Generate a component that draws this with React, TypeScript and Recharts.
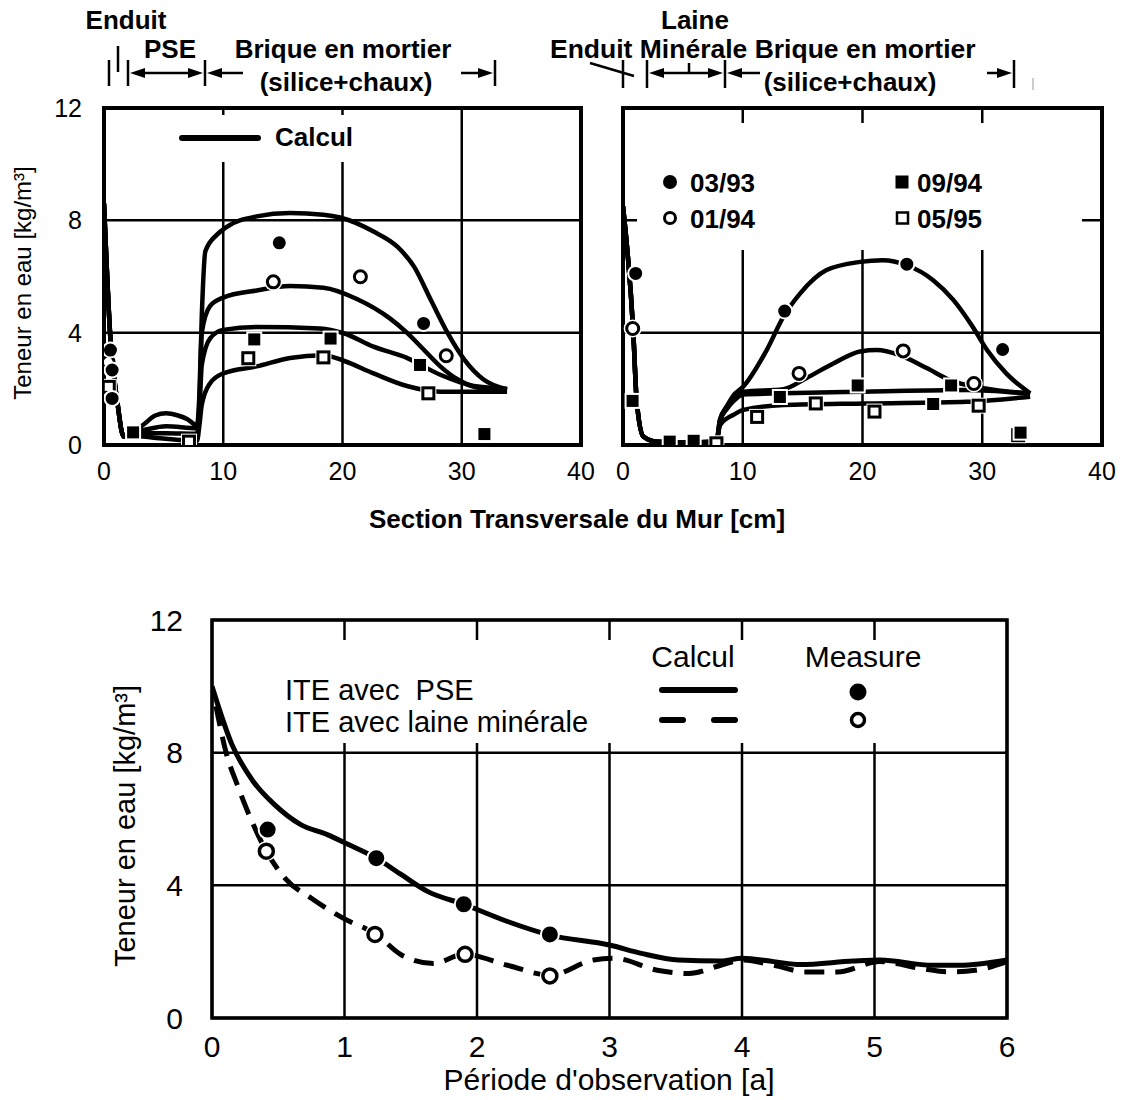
import {
  ComposedChart,
  Line,
  Scatter,
  XAxis,
  YAxis,
  CartesianGrid,
  ReferenceArea,
  Legend,
} from "recharts";

type Pt = [number, number];

const SANS = "Arial, 'Liberation Sans', Helvetica, sans-serif";

// ---- top panels: x = section of the wall [cm], y = water content [kg/m³]
const WALL_X_TICKS = [0, 10, 20, 30, 40];
const WATER_TICKS = [0, 4, 8, 12];

// PSE wall, calculated profiles
const PSE_START: Pt[] = [[0, 8.6], [0.55, 3.7], [1.1, 1.6], [1.65, 0.3]];
const PSE_CALC_0393: Pt[] = [[2.4, 0.45], [3.3, 0.72], [4.3, 1.05], [5.2, 1.13], [6.2, 1.05], [7.0, 0.92], [7.8, 0.7], [8.0, 1.8], [8.2, 4.6], [8.5, 6.9], [9.5, 7.5], [10.3, 7.77], [12.8, 8.14], [15.6, 8.26], [18.4, 8.2], [19.8, 8.1], [22.6, 7.6], [24.6, 7.06], [26, 6.35], [27.4, 5.17], [28.8, 4.0], [30.2, 3.05], [31.8, 2.34], [33.8, 1.98]];
const PSE_CALC_0194: Pt[] = [[2.4, 0.45], [3.3, 0.53], [5.2, 0.67], [7.8, 0.6], [8.0, 1.5], [8.2, 4.0], [8.9, 4.95], [10, 5.25], [12.8, 5.5], [15.6, 5.66], [18.4, 5.6], [21.2, 5.2], [24, 4.5], [25.4, 4.0], [26.8, 3.4], [28.2, 2.8], [29.6, 2.35], [31.3, 2.05], [33.8, 1.95]];
const PSE_CALC_0994: Pt[] = [[2.4, 0.4], [3.3, 0.42], [5.2, 0.42], [7.8, 0.4], [8.0, 1.2], [8.2, 2.85], [8.9, 3.8], [10, 4.1], [12.8, 4.2], [18.1, 4.15], [20.1, 3.98], [22.6, 3.5], [25.4, 3.1], [28.2, 2.5], [31, 2.1], [33.8, 2.0]];
const PSE_CALC_0595: Pt[] = [[2.4, 0.35], [3.3, 0.3], [5.2, 0.22], [7.8, 0.15], [8.0, 0.7], [8.2, 1.43], [8.9, 2.2], [10, 2.55], [12.8, 2.8], [15.6, 3.1], [18.4, 3.2], [20.1, 3.0], [22.6, 2.55], [25.4, 2.1], [28.2, 1.9], [33.8, 1.9]];

// PSE wall, measurements
const PSE_MEAS_0393: Pt[] = [[0.54, 3.38], [0.68, 2.67], [0.68, 1.66], [14.7, 7.2], [26.8, 4.33]];
const PSE_MEAS_0194: Pt[] = [[0.35, 2.95], [14.2, 5.81], [21.5, 5.99], [28.7, 3.18]];
const PSE_MEAS_0994: Pt[] = [[2.44, 0.45], [12.6, 3.76], [19.0, 3.79], [26.5, 2.85], [31.9, 0.39]];
const PSE_MEAS_0595: Pt[] = [[0.4, 2.07], [7.13, 0.12], [12.1, 3.09], [18.4, 3.12], [27.2, 1.84]];

// mineral wool wall, calculated profiles
const LM_START: Pt[] = [[0, 8.5], [0.86, 4.0], [1.14, 1.6], [1.7, 0.3], [2.8, 0.12], [5, 0.1], [7.8, 0.12]];
const LM_CALC_0393: Pt[] = [[8.1, 0.9], [8.7, 1.4], [9.2, 1.75], [10.05, 2.08], [12, 3.38], [13.4, 4.57], [14.8, 5.4], [17, 6.23], [19.8, 6.52], [21.7, 6.58], [23.7, 6.4], [25.9, 5.87], [27.6, 5.16], [29.2, 4.21], [30.4, 3.38], [32, 2.55], [34, 1.84]];
const LM_CALC_0194: Pt[] = [[8.1, 0.9], [8.7, 1.35], [9.2, 1.65], [10.05, 1.9], [13.4, 1.99], [15.3, 2.38], [17.6, 2.91], [19.8, 3.33], [21.2, 3.38], [23.1, 3.2], [25.4, 2.73], [27.3, 2.31], [30.1, 2.02], [34, 1.84]];
const LM_CALC_0994: Pt[] = [[8.1, 0.85], [8.7, 1.3], [9.2, 1.55], [10.05, 1.8], [13.4, 1.84], [20.3, 1.9], [28.7, 1.96], [34, 1.82]];
const LM_CALC_0595: Pt[] = [[8.1, 0.7], [8.7, 0.95], [9.2, 1.07], [10.05, 1.25], [13.4, 1.42], [20.3, 1.48], [28.7, 1.54], [34, 1.72]];

// mineral wool wall, measurements
const LM_MEAS_0393: Pt[] = [[1.06, 6.11], [13.5, 4.77], [23.7, 6.44], [31.7, 3.4]];
const LM_MEAS_0194: Pt[] = [[0.81, 4.15], [14.7, 2.55], [23.4, 3.35], [29.3, 2.19]];
const LM_MEAS_0994: Pt[] = [[0.8, 1.57], [3.9, 0.12], [5.9, 0.15], [13.1, 1.71], [19.6, 2.12], [25.9, 1.46], [27.4, 2.12], [33.2, 0.44]];
const LM_MEAS_0595: Pt[] = [[7.8, 0.06], [11.2, 1.0], [16.1, 1.48], [21.0, 1.19], [29.7, 1.4], [33.0, 0.35]];

// ---- bottom panel: x = observation period [a]
const YEAR_TICKS = [0, 1, 2, 3, 4, 5, 6];
const TIME_CALC_PSE: Pt[] = [[0, 10.0], [0.15, 8.25], [0.31, 7.14], [0.47, 6.44], [0.67, 5.83], [0.87, 5.53], [1.03, 5.23], [1.24, 4.82], [1.43, 4.32], [1.63, 3.81], [1.9, 3.43], [2.23, 2.91], [2.55, 2.5], [3.0, 2.2], [3.24, 1.95], [3.52, 1.75], [3.84, 1.72], [4.0, 1.8], [4.24, 1.7], [4.44, 1.61], [4.84, 1.72], [5.04, 1.75], [5.44, 1.59], [5.64, 1.59], [6.0, 1.75]];
const TIME_CALC_LM: Pt[] = [[0.03, 9.4], [0.11, 7.95], [0.19, 7.04], [0.29, 6.03], [0.41, 5.03], [0.55, 4.22], [0.75, 3.61], [0.99, 3.01], [1.24, 2.52], [1.43, 1.9], [1.67, 1.64], [1.9, 1.92], [2.23, 1.59], [2.55, 1.29], [2.88, 1.75], [3.04, 1.8], [3.36, 1.44], [3.6, 1.34], [3.84, 1.59], [4.0, 1.75], [4.24, 1.59], [4.48, 1.39], [4.72, 1.39], [5.04, 1.7], [5.36, 1.49], [5.56, 1.39], [5.76, 1.44], [6.0, 1.7]];
const TIME_MEAS_PSE: Pt[] = [[0.42, 5.68], [1.24, 4.82], [1.9, 3.43], [2.55, 2.52]];
const TIME_MEAS_LM: Pt[] = [[0.41, 5.03], [1.23, 2.52], [1.91, 1.92], [2.55, 1.27]];

const xy = (pts: Pt[]) => pts.map(([x, y]) => ({ x, y }));

type Kind = "disc" | "ring" | "block" | "box";

function marker(kind: Kind, big = false) {
  return (p: any) => {
    const { cx, cy } = p;
    if (cx == null || cy == null) return <g />;
    if (kind === "disc") {
      const r = big ? 9 : 7.5;
      return <circle cx={cx} cy={cy} r={r} fill="#000" stroke="#fff" strokeWidth={2} />;
    }
    if (kind === "ring") {
      const r = big ? 7 : 6;
      return (
        <g>
          <circle cx={cx} cy={cy} r={r + 3} fill="#fff" />
          <circle cx={cx} cy={cy} r={r} fill="#fff" stroke="#000" strokeWidth={big ? 3.5 : 3} />
        </g>
      );
    }
    if (kind === "block") {
      return <rect x={cx - 7} y={cy - 7} width={14} height={14} fill="#000" stroke="#fff" strokeWidth={2} />;
    }
    return (
      <g>
        <rect x={cx - 8} y={cy - 8} width={16} height={16} fill="#fff" />
        <rect x={cx - 5.5} y={cy - 5.5} width={11} height={11} fill="#fff" stroke="#000" strokeWidth={3} />
      </g>
    );
  };
}

const tickStyle = (size: number) => ({ fill: "#000", fontSize: size, fontFamily: SANS });

function PseKey() {
  return (
    <div style={{ width: 200, height: 47, background: "#fff" }}>
      <svg width={200} height={47}>
        <line x1={12} y1={23} x2={88} y2={23} stroke="#000" strokeWidth={6} strokeLinecap="round" />
        <text x={105} y={31} fontFamily={SANS} fontWeight="bold" fontSize={26}>Calcul</text>
      </svg>
    </div>
  );
}

function DateKey() {
  const lbl = { fontFamily: SANS, fontWeight: "bold" as const, fontSize: 26 };
  return (
    <div style={{ width: 445, height: 127, background: "#fff" }}>
      <svg width={445} height={127}>
        <circle cx={33} cy={59} r={7} fill="#000" />
        <text x={53} y={69} {...lbl}>03/93</text>
        <circle cx={33} cy={95} r={5.5} fill="#fff" stroke="#000" strokeWidth={3} />
        <text x={53} y={105} {...lbl}>01/94</text>
        <rect x={258.5} y={52.5} width={13} height={13} fill="#000" />
        <text x={280} y={69} {...lbl}>09/94</text>
        <rect x={260} y={89.5} width={11} height={11} fill="#fff" stroke="#000" strokeWidth={2.5} />
        <text x={280} y={105} {...lbl}>05/95</text>
      </svg>
    </div>
  );
}

function TimeKey() {
  const head = { fontFamily: SANS, fontSize: 30 };
  const row = { fontFamily: SANS, fontSize: 29 };
  return (
    <div style={{ width: 720, height: 103, background: "#fff" }}>
      <svg width={720} height={103}>
        <text x={423} y={27} textAnchor="middle" {...head}>Calcul</text>
        <text x={593} y={27} textAnchor="middle" {...head}>Measure</text>
        <text x={15} y={60} style={{ whiteSpace: "pre" }} {...row}>{"ITE avec  PSE"}</text>
        <text x={15} y={92} {...row}>ITE avec laine minérale</text>
        <line x1={392} y1={50} x2={465} y2={50} stroke="#000" strokeWidth={6} strokeLinecap="round" />
        <line x1={392} y1={80} x2={413} y2={80} stroke="#000" strokeWidth={6} strokeLinecap="round" />
        <line x1={444} y1={80} x2={465} y2={80} stroke="#000" strokeWidth={6} strokeLinecap="round" />
        <circle cx={588} cy={52} r={8.5} fill="#000" />
        <circle cx={588} cy={80} r={6.5} fill="#fff" stroke="#000" strokeWidth={3.5} />
      </svg>
    </div>
  );
}

interface WallPanelProps {
  start: Pt[];
  calc: Pt[][];
  meas: [Pt[], Pt[], Pt[], Pt[]];
  width: number;
  marginLeft: number;
  marginRight: number;
  showY: boolean;
  keyBox: { left: number; top: number; width: number; height: number };
  keyContent: () => JSX.Element;
}

function WallPanel({ start, calc, meas, width, marginLeft, marginRight, showY, keyBox, keyContent }: WallPanelProps) {
  return (
    <ComposedChart width={width} height={500} margin={{ top: 108, right: marginRight, bottom: 15, left: marginLeft }}>
      <CartesianGrid stroke="#000" strokeWidth={2.5} />
      <XAxis
        type="number"
        dataKey="x"
        domain={[0, 40]}
        ticks={WALL_X_TICKS}
        interval={0}
        tick={tickStyle(25)}
        tickLine={false}
        axisLine={false}
        tickMargin={11}
        height={40}
        allowDataOverflow
      />
      <YAxis
        type="number"
        dataKey="y"
        domain={[0, 12]}
        ticks={WATER_TICKS}
        interval={0}
        tick={tickStyle(25)}
        tickLine={false}
        axisLine={false}
        tickMargin={16}
        width={104}
        hide={!showY}
        allowDataOverflow
      />
      <ReferenceArea x1={0} x2={40} y1={0} y2={12} fill="none" stroke="#000" strokeWidth={4} ifOverflow="visible" />
      {calc.map((c, i) => (
        <Line
          key={i}
          data={xy([...start, ...c])}
          dataKey="y"
          type="monotone"
          stroke="#000"
          strokeWidth={4.5}
          dot={false}
          activeDot={false}
          isAnimationActive={false}
        />
      ))}
      <Scatter data={xy(meas[1])} dataKey="y" shape={marker("ring")} isAnimationActive={false} />
      <Scatter data={xy(meas[3])} dataKey="y" shape={marker("box")} isAnimationActive={false} />
      <Scatter data={xy(meas[0])} dataKey="y" shape={marker("disc")} isAnimationActive={false} />
      <Scatter data={xy(meas[2])} dataKey="y" shape={marker("block")} isAnimationActive={false} />
      <Legend
        layout="horizontal"
        verticalAlign="middle"
        align="center"
        wrapperStyle={{ position: "absolute", ...keyBox }}
        content={keyContent}
      />
    </ComposedChart>
  );
}

function TimePanel() {
  return (
    <ComposedChart width={1125} height={540} margin={{ top: 60, right: 118, bottom: 2, left: 0 }}>
      <CartesianGrid stroke="#000" strokeWidth={2.5} />
      <XAxis
        type="number"
        dataKey="x"
        domain={[0, 6]}
        ticks={YEAR_TICKS}
        interval={0}
        tick={tickStyle(30)}
        tickLine={false}
        axisLine={false}
        tickMargin={12}
        height={80}
        allowDataOverflow
      />
      <YAxis
        type="number"
        dataKey="y"
        domain={[0, 12]}
        ticks={WATER_TICKS}
        interval={0}
        tick={tickStyle(30)}
        tickLine={false}
        axisLine={false}
        tickMargin={23}
        width={212}
        allowDataOverflow
      />
      <ReferenceArea x1={0} x2={6} y1={0} y2={12} fill="none" stroke="#000" strokeWidth={3.5} ifOverflow="visible" />
      <Line data={xy(TIME_CALC_PSE)} dataKey="y" type="monotone" stroke="#000" strokeWidth={5} dot={false} activeDot={false} isAnimationActive={false} />
      <Line data={xy(TIME_CALC_LM)} dataKey="y" type="monotone" stroke="#000" strokeWidth={5} strokeDasharray="20 11" dot={false} activeDot={false} isAnimationActive={false} />
      <Scatter data={xy(TIME_MEAS_LM)} dataKey="y" shape={marker("ring", true)} isAnimationActive={false} />
      <Scatter data={xy(TIME_MEAS_PSE)} dataKey="y" shape={marker("disc", true)} isAnimationActive={false} />
      <Legend
        layout="horizontal"
        verticalAlign="middle"
        align="center"
        wrapperStyle={{ position: "absolute", left: 270, top: 80, width: 720, height: 103 }}
        content={() => <TimeKey />}
      />
    </ComposedChart>
  );
}

function arrowHead(x: number, y: number, dir: 1 | -1) {
  // dir 1 points right, -1 points left
  const len = 15;
  const half = 5;
  return <polygon points={`${x},${y} ${x - dir * len},${y - half} ${x - dir * len},${y + half}`} fill="#000" />;
}

function Annotations() {
  const hdr = { fontFamily: SANS, fontWeight: "bold" as const, fontSize: 26, textAnchor: "middle" as const };
  const ln = { stroke: "#000", strokeWidth: 2.5 };
  const ay = 73;
  return (
    <svg width={1125} height={1100} style={{ position: "absolute", left: 0, top: 0, pointerEvents: "none" }}>
      {/* left wall layers */}
      <text x={126} y={29} {...hdr}>Enduit</text>
      <text x={170} y={58} {...hdr}>PSE</text>
      <text x={343} y={58} {...hdr}>Brique en mortier</text>
      <text x={346} y={91} {...hdr}>(silice+chaux)</text>
      <line x1={109} y1={60} x2={109} y2={86} {...ln} />
      <line x1={118} y1={46} x2={118} y2={72} {...ln} />
      <line x1={128} y1={60} x2={128} y2={86} {...ln} />
      <line x1={205} y1={60} x2={205} y2={86} {...ln} />
      <line x1={495} y1={60} x2={495} y2={86} {...ln} />
      <line x1={140} y1={ay} x2={192} y2={ay} {...ln} />
      {arrowHead(130, ay, -1)}
      {arrowHead(203, ay, 1)}
      <line x1={218} y1={ay} x2={243} y2={ay} {...ln} />
      {arrowHead(207, ay, -1)}
      <line x1={461} y1={ay} x2={482} y2={ay} {...ln} />
      {arrowHead(493, ay, 1)}

      {/* right wall layers */}
      <text x={695} y={29} {...hdr}>Laine</text>
      <text x={550} y={58} fontFamily={SANS} fontWeight="bold" fontSize={26.5}>Enduit Minérale Brique en mortier</text>
      <text x={850} y={91} {...hdr}>(silice+chaux)</text>
      <line x1={590} y1={63} x2={634} y2={76} {...ln} />
      <line x1={623} y1={60} x2={623} y2={88} {...ln} />
      <line x1={647} y1={60} x2={647} y2={88} {...ln} />
      <line x1={725} y1={60} x2={725} y2={88} {...ln} />
      <line x1={1014} y1={60} x2={1014} y2={88} {...ln} />
      <line x1={659} y1={ay} x2={712} y2={ay} {...ln} />
      <line x1={689} y1={63} x2={689} y2={ay} {...ln} />
      {arrowHead(649, ay, -1)}
      {arrowHead(723, ay, 1)}
      <line x1={738} y1={ay} x2={760} y2={ay} {...ln} />
      {arrowHead(727, ay, -1)}
      <line x1={987} y1={ay} x2={1001} y2={ay} {...ln} />
      {arrowHead(1012, ay, 1)}
      <line x1={1033} y1={78} x2={1033} y2={90} stroke="#bbb" strokeWidth={1.5} />

      {/* axis titles */}
      <text x={22} y={283} transform="rotate(-90 22 283)" fontFamily={SANS} fontSize={24} textAnchor="middle" dominantBaseline="central">
        Teneur en eau [kg/m³]
      </text>
      <text x={577} y={528} fontFamily={SANS} fontWeight="bold" fontSize={26} textAnchor="middle">
        Section Transversale du Mur [cm]
      </text>
      <text x={125} y={826} transform="rotate(-90 125 826)" fontFamily={SANS} fontSize={29} textAnchor="middle" dominantBaseline="central">
        Teneur en eau [kg/m³]
      </text>
      <text x={609} y={1090} fontFamily={SANS} fontSize={30} textAnchor="middle">
        Période d'observation [a]
      </text>
    </svg>
  );
}

export default function App() {
  return (
    <div style={{ position: "absolute", left: 0, top: 0, width: 1125, height: 1100, background: "#fff" }}>
      <div style={{ position: "absolute", left: 0, top: 0 }}>
        <WallPanel
          start={PSE_START}
          calc={[PSE_CALC_0393, PSE_CALC_0194, PSE_CALC_0994, PSE_CALC_0595]}
          meas={[PSE_MEAS_0393, PSE_MEAS_0194, PSE_MEAS_0994, PSE_MEAS_0595]}
          width={600}
          marginLeft={0}
          marginRight={19}
          showY
          keyBox={{ left: 170, top: 115, width: 200, height: 47 }}
          keyContent={() => <PseKey />}
        />
      </div>
      <div style={{ position: "absolute", left: 560, top: 0 }}>
        <WallPanel
          start={LM_START}
          calc={[LM_CALC_0393, LM_CALC_0194, LM_CALC_0994, LM_CALC_0595]}
          meas={[LM_MEAS_0393, LM_MEAS_0194, LM_MEAS_0994, LM_MEAS_0595]}
          width={565}
          marginLeft={63}
          marginRight={23}
          showY={false}
          keyBox={{ left: 77, top: 123, width: 445, height: 127 }}
          keyContent={() => <DateKey />}
        />
      </div>
      <div style={{ position: "absolute", left: 0, top: 560 }}>
        <TimePanel />
      </div>
      <Annotations />
    </div>
  );
}
